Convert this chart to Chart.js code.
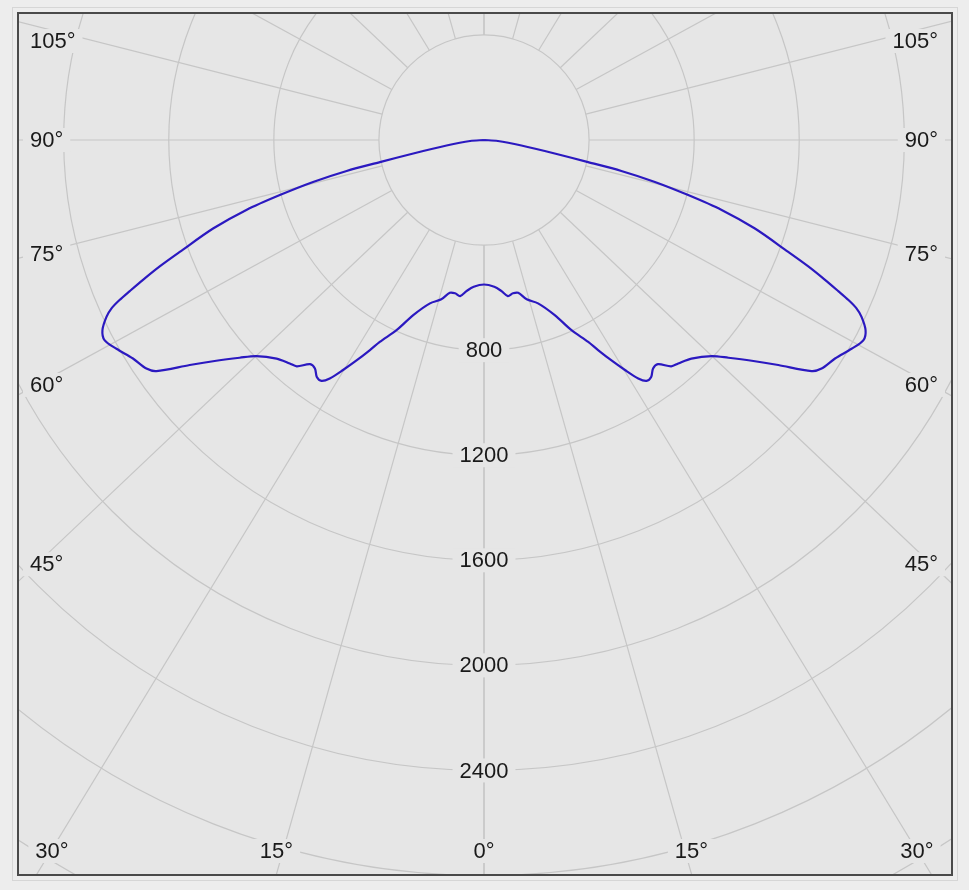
<!DOCTYPE html>
<html lang="pt-BR">
<head>
<meta charset="utf-8">
<title>Curva fotométrica</title>
<script src="https://cdn.jsdelivr.net/npm/chart.js@4.4.1/dist/chart.umd.min.js"></script>
<style>
  html, body { margin: 0; padding: 0; background: #ededed; }
  #wrap { position: relative; width: 969px; height: 890px; }
</style>
</head>
<body>
<div id="wrap"><canvas id="curvaPolar" width="969" height="890"></canvas></div>
<script>
// Ângulos gama (graus, 0 = para baixo) e intensidades (cd)
const angulosGama = [0, 4, 6.5, 8.7, 10.7, 12.6, 15, 18.3, 22, 24.7, 27.3, 28.5, 30, 31.5, 32.9, 34, 35.2, 36.5, 37.8, 39.6, 41, 43.5, 46.5, 48.3, 50.5, 52.6, 54.8, 55.9, 58.1, 60.4, 62.2, 63.5, 64.9, 65.7, 66.3, 66.9, 67.7, 68.7, 69.8, 71.9, 73.6, 74.9, 76.2, 77.3, 78, 79.2, 81.6, 85.9, 90];
// plano esquerdo (C270)
const intensidadeC270 = [550, 560, 578, 601, 594, 596, 628, 655, 719, 797, 865, 910, 968, 1027, 1081, 1106, 1104, 1082, 1080, 1118, 1127, 1147, 1195, 1246, 1321, 1410, 1526, 1552, 1574, 1609, 1633, 1623, 1587, 1555, 1515, 1466, 1403, 1325, 1234, 1085, 943, 805, 670, 536, 405, 274, 144, 53, 0];
// plano direito (C90)
const intensidadeC90 = [550, 560, 578, 601, 594, 596, 628, 655, 719, 797, 865, 910, 968, 1027, 1081, 1106, 1104, 1082, 1080, 1118, 1127, 1147, 1195, 1246, 1321, 1410, 1526, 1552, 1574, 1609, 1633, 1623, 1587, 1555, 1515, 1466, 1403, 1325, 1234, 1085, 943, 805, 670, 536, 405, 274, 144, 53, 0];

// Grade polar
const circulosIntensidade = [400, 800, 1200, 1600, 2000, 2400, 2800, 3200, 3600];
const rotulosIntensidade = [800, 1200, 1600, 2000, 2400];
const angulosGrade = [0, 15, 30, 45, 60, 75, 90, 105, 120, 135, 150, 165, 180];
const rotulosAngulo = [0, 15, 30, 45, 60, 75, 90, 105];

const corFundo = '#e6e6e6';
const corGrade = '#c6c6c6';
const corCurva = '#2b19c0';
const fonteRotulo = '22px "Liberation Sans", Arial, sans-serif';

let chartInstances = {};

// Converte (gama, intensidade) em x/y cartesianos do gráfico
function pontoPolar(gama, valor, lado) {
  const rad = gama * Math.PI / 180;
  return { x: lado * valor * Math.sin(rad), y: -valor * Math.cos(rad) };
}

function montarCurva() {
  const pontos = [];
  for (let i = angulosGama.length - 1; i >= 0; i--) {
    pontos.push(pontoPolar(angulosGama[i], intensidadeC270[i], -1));
  }
  for (let i = 1; i < angulosGama.length; i++) {
    pontos.push(pontoPolar(angulosGama[i], intensidadeC90[i], 1));
  }
  return pontos;
}

// Caixa com a cor do fundo por trás de um rótulo (esconde a grade)
function rotuloComCaixa(ctx, texto, x, y, alinhamento) {
  ctx.font = fonteRotulo;
  const w = ctx.measureText(texto).width;
  let x0 = x - w / 2;
  if (alinhamento === 'left') x0 = x;
  if (alinhamento === 'right') x0 = x - w;
  ctx.fillStyle = corFundo;
  ctx.fillRect(x0 - 7, y - 12, w + 14, 24);
  ctx.fillStyle = '#1a1a1a';
  ctx.textAlign = alinhamento;
  ctx.textBaseline = 'middle';
  ctx.fillText(texto, x, y + 1);
}

const gradePolar = {
  id: 'gradePolar',
  beforeDatasetsDraw(chart) {
    const { ctx, chartArea: area, scales: { x, y } } = chart;
    const cx = x.getPixelForValue(0);
    const cy = y.getPixelForValue(0);
    const escala = x.getPixelForValue(1000) - cx;

    ctx.save();
    ctx.beginPath();
    ctx.rect(area.left, area.top, area.right - area.left, area.bottom - area.top);
    ctx.clip();
    ctx.fillStyle = corFundo;
    ctx.fillRect(area.left, area.top, area.right - area.left, area.bottom - area.top);

    ctx.strokeStyle = corGrade;
    ctx.lineWidth = 1.2;
    circulosIntensidade.forEach(v => {
      ctx.beginPath();
      ctx.arc(cx, cy, v * escala / 1000, 0, Math.PI * 2);
      ctx.stroke();
    });

    // raios a cada 15°, a partir do primeiro círculo
    const r0 = circulosIntensidade[0] * escala / 1000;
    [-1, 1].forEach(lado => {
      angulosGrade.forEach(a => {
        const rad = a * Math.PI / 180;
        let dx = lado * Math.sin(rad) * 1.055;
        let dy = Math.cos(rad);
        const n = Math.hypot(dx, dy);
        dx /= n; dy /= n;
        ctx.beginPath();
        ctx.moveTo(cx + dx * r0, cy + dy * r0);
        ctx.lineTo(cx + dx * 2000, cy + dy * 2000);
        ctx.stroke();
      });
    });

    // rótulos de intensidade no eixo vertical
    rotulosIntensidade.forEach(v => {
      rotuloComCaixa(ctx, String(v), cx, y.getPixelForValue(-v), 'center');
    });

    // rótulos de ângulo junto à borda
    const xEsq = area.left + 11;
    const xDir = area.right - 13;
    const yBaixo = area.bottom - 23;
    const yTopo = area.top + 27;
    [-1, 1].forEach(lado => {
      rotulosAngulo.forEach(a => {
        if (a === 0 && lado === 1) return;
        const rad = a * Math.PI / 180;
        const dx = lado * Math.sin(rad) * 1.03;
        const dy = Math.cos(rad);
        const texto = a + '°';
        let py = null;
        if (Math.abs(dx) > 1e-6) {
          py = cy + (437 / Math.abs(dx)) * dy;
        }
        if (py !== null && py <= yBaixo) {
          py = Math.max(py, yTopo);
          rotuloComCaixa(ctx, texto, lado < 0 ? xEsq : xDir, py, lado < 0 ? 'left' : 'right');
        } else {
          // embaixo: segue o raio da grade até a borda inferior
          const dxr = lado * Math.sin(rad) * 1.055;
          let px = cx + dxr * (area.bottom - cy) / dy;
          px = Math.min(Math.max(px, area.left + 33), area.right - 34);
          rotuloComCaixa(ctx, texto, px, yBaixo, 'center');
        }
      });
    });
    ctx.restore();
  },
  afterDraw(chart) {
    const { ctx, chartArea: area } = chart;
    ctx.save();
    ctx.strokeStyle = '#d6d6d6';
    ctx.lineWidth = 1;
    ctx.strokeRect(area.left - 6.5, area.top - 6.5, area.right - area.left + 13, area.bottom - area.top + 13);
    ctx.strokeStyle = '#4a4a4a';
    ctx.lineWidth = 2;
    ctx.strokeRect(area.left - 1, area.top - 1, area.right - area.left + 2, area.bottom - area.top + 2);
    ctx.restore();
  }
};

function createPolarChart(id) {
  const ctx = document.getElementById(id).getContext('2d');

  if (chartInstances[id]) {
    chartInstances[id].destroy();
  }

  chartInstances[id] = new Chart(ctx, {
    type: 'scatter',
    data: {
      datasets: [{
        label: 'C90 / C270',
        data: montarCurva(),
        showLine: true,
        borderColor: corCurva,
        borderWidth: 2.2,
        pointRadius: 0,
        tension: 0.3,
        fill: false
      }]
    },
    options: {
      responsive: false,
      animation: false,
      layout: { padding: { left: 19, right: 18, top: 14, bottom: 16 } },
      plugins: {
        legend: { display: false },
        tooltip: { enabled: false }
      },
      scales: {
        x: { type: 'linear', min: -1770.1, max: 1777.7, display: false },
        y: { type: 'linear', min: -2794.1, max: 479.6, display: false }
      }
    },
    plugins: [gradePolar]
  });
}

document.addEventListener('DOMContentLoaded', () => {
  createPolarChart('curvaPolar');
});
</script>
</body>
</html>
